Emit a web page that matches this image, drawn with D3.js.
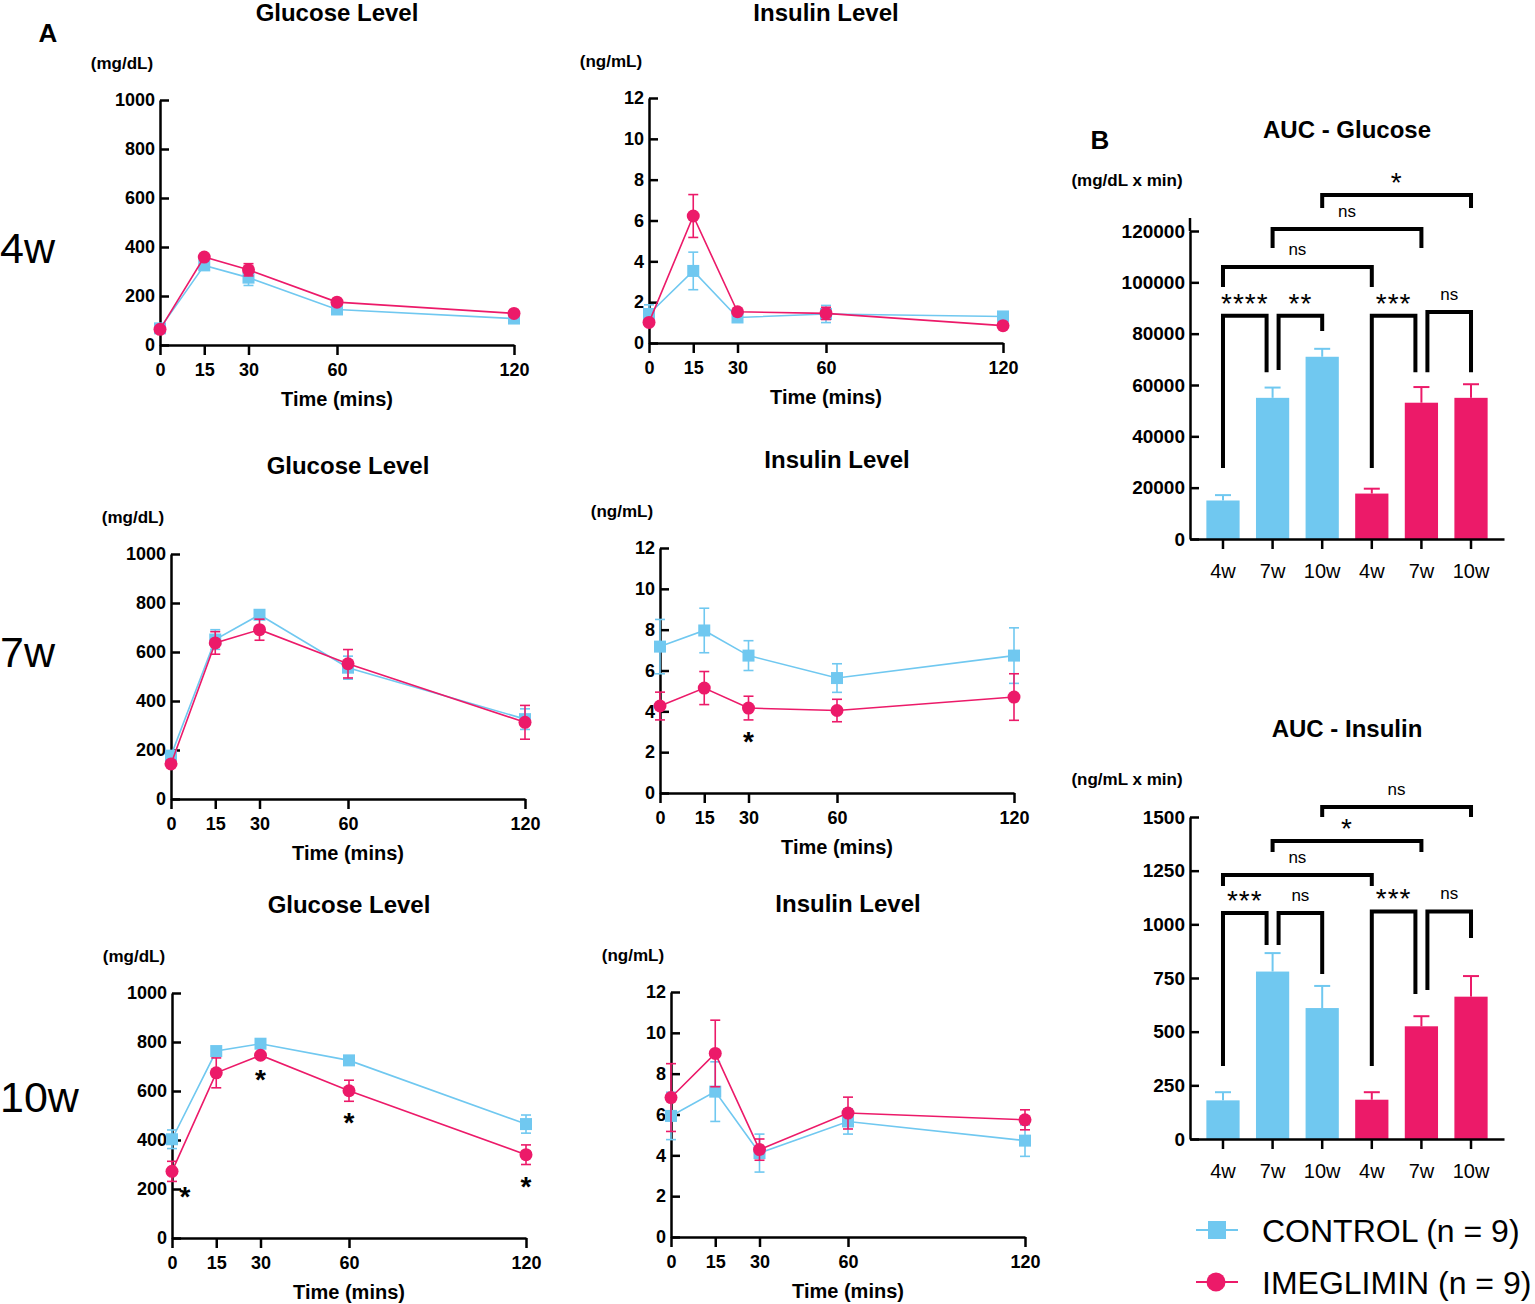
<!DOCTYPE html>
<html>
<head>
<meta charset="utf-8">
<script src="https://cdn.jsdelivr.net/npm/d3@7"></script>
<style>
  body { margin: 0; background: #fff; }
  svg text { font-family: "Liberation Sans", Arial, sans-serif; fill: #000; }
</style>
</head>
<body>
<svg id="fig" width="1535" height="1304"></svg>
<script>
// ---- data ----
const times = [0, 15, 30, 60, 120];
const glucoseTicks = [0, 200, 400, 600, 800, 1000];
const insulinTicks = [0, 2, 4, 6, 8, 10, 12];

const glucose4wCtrl = [68, 325, 275, 145, 108];
const glucose4wCtrlErr = [12, 15, 32, 10, 8];
const glucose4wIme = [64, 359, 307, 175, 129];
const glucose4wImeErr = [8, 10, 25, 8, 8];

const insulin4wCtrl = [1.42, 3.53, 1.25, 1.42, 1.30];
const insulin4wCtrlErr = [0.45, 0.92, 0.1, 0.42, 0.1];
const insulin4wIme = [1.01, 6.22, 1.53, 1.45, 0.85];
const insulin4wImeErr = [0.1, 1.05, 0.1, 0.3, 0.08];

const glucose7wCtrl = [177, 651, 752, 536, 326];
const glucose7wCtrlErr = [15, 40, 10, 47, 42];
const glucose7wIme = [143, 637, 691, 552, 313];
const glucose7wImeErr = [10, 46, 43, 58, 69];

const insulin7wCtrl = [7.17, 7.96, 6.73, 5.63, 6.73];
const insulin7wCtrlErr = [1.33, 1.09, 0.73, 0.70, 1.36];
const insulin7wIme = [4.26, 5.14, 4.16, 4.04, 4.70];
const insulin7wImeErr = [0.68, 0.81, 0.58, 0.55, 1.14];

const glucose10wCtrl = [403, 763, 793, 725, 465];
const glucose10wCtrlErr = [38, 10, 10, 12, 37];
const glucose10wIme = [272, 674, 746, 601, 340];
const glucose10wImeErr = [41, 61, 10, 43, 40];

const insulin10wCtrl = [5.93, 7.12, 4.11, 5.66, 4.72];
const insulin10wCtrlErr = [1.16, 1.46, 0.93, 0.62, 0.77];
const insulin10wIme = [6.83, 8.99, 4.28, 6.07, 5.74];
const insulin10wImeErr = [1.66, 1.63, 0.52, 0.78, 0.49];

// time points marked * (imeglimin vs control)
const glucose10wStars = [0, 30, 60, 120];
const insulin7wStars = [30];

const aucLabels = ["4w", "7w", "10w", "4w", "7w", "10w"];
const aucGroup = ["CONTROL", "CONTROL", "CONTROL", "IMEGLIMIN", "IMEGLIMIN", "IMEGLIMIN"];
const aucGlucose = [15000, 55000, 71000, 17700, 53100, 55000];
const aucGlucoseErr = [2100, 4000, 3100, 1900, 6100, 5300];
const aucGlucoseTicks = [0, 20000, 40000, 60000, 80000, 100000, 120000];
const aucInsulin = [180, 780, 610, 183, 525, 663];
const aucInsulinErr = [38, 86, 103, 35, 47, 96];
const aucInsulinTicks = [0, 250, 500, 750, 1000, 1250, 1500];

// comparisons: bars a-b, label, bracket height and leg ends (data units)
const glucoseBrackets = [
  { a: 0, b: 1, label: "****", top: 87000, endA: 27700, endB: 65000 },
  { a: 1, b: 2, label: "**", top: 87000, endA: 65800, endB: 81000 },
  { a: 3, b: 4, label: "***", top: 87000, endA: 27700, endB: 65000 },
  { a: 4, b: 5, label: "ns", top: 88400, endA: 65000, endB: 65000 },
  { a: 0, b: 3, label: "ns", top: 106000, endA: 98200, endB: 98200 },
  { a: 1, b: 4, label: "ns", top: 120800, endA: 113400, endB: 113400 },
  { a: 2, b: 5, label: "*", top: 134000, endA: 129000, endB: 129000 }
];
const insulinBrackets = [
  { a: 0, b: 1, label: "***", top: 1053, endA: 340, endB: 904 },
  { a: 1, b: 2, label: "ns", top: 1053, endA: 904, endB: 769 },
  { a: 3, b: 4, label: "***", top: 1060, endA: 340, endB: 675 },
  { a: 4, b: 5, label: "ns", top: 1060, endA: 694, endB: 936 },
  { a: 0, b: 3, label: "ns", top: 1230, endA: 1178, endB: 1178 },
  { a: 1, b: 4, label: "*", top: 1388, endA: 1337, endB: 1337 },
  { a: 2, b: 5, label: "ns", top: 1547, endA: 1500, endB: 1500 }
];

// ---- drawing ----
const blue = "#70c8f0";
const pink = "#ec1a69";
const color = d3.scaleOrdinal().domain(["CONTROL", "IMEGLIMIN"]).range([blue, pink]);
const svg = d3.select("#fig");
const W = 354, H = 245;

function styleAxis(sel, fs) {
  sel.selectAll(".domain").attr("stroke", "#000").attr("stroke-width", 2.5);
  sel.selectAll(".tick line").attr("stroke", "#000").attr("stroke-width", 2.5);
  sel.selectAll(".tick text").style("font-size", fs + "px").style("font-weight", "bold");
}

function drawSeries(g, x, y, vals, errs, col, shape) {
  g.append("path")
    .datum(vals)
    .attr("fill", "none")
    .attr("stroke", col)
    .attr("stroke-width", 1.6)
    .attr("d", d3.line().x((d, i) => x(times[i])).y(d => y(d)));

  const eb = g.append("g").attr("stroke", col).attr("stroke-width", 1.6);
  vals.forEach((v, i) => {
    const cx = x(times[i]);
    eb.append("line").attr("x1", cx).attr("x2", cx).attr("y1", y(v - errs[i])).attr("y2", y(v + errs[i]));
    [v - errs[i], v + errs[i]].forEach(e => {
      eb.append("line").attr("x1", cx - 5).attr("x2", cx + 5).attr("y1", y(e)).attr("y2", y(e));
    });
  });

  if (shape === "square") {
    g.selectAll(null).data(vals).enter().append("rect")
      .attr("x", (d, i) => x(times[i]) - 6).attr("y", d => y(d) - 6)
      .attr("width", 12).attr("height", 12).attr("fill", col);
  } else {
    g.selectAll(null).data(vals).enter().append("circle")
      .attr("cx", (d, i) => x(times[i])).attr("cy", d => y(d))
      .attr("r", 6.5).attr("fill", col);
  }
}

function lineChart(p) {
  const x = d3.scaleLinear().domain([0, 120]).range([p.left, p.left + W]);
  const y = d3.scaleLinear().domain([0, p.max]).range([p.bottom, p.bottom - H]);
  const g = svg.append("g");

  const ax = g.append("g").attr("transform", `translate(0,${p.bottom})`)
    .call(d3.axisBottom(x).tickValues(times).tickSize(10).tickSizeOuter(0).tickPadding(8));
  styleAxis(ax, 18);
  const ay = g.append("g").attr("transform", `translate(${p.left},0)`)
    .call(d3.axisLeft(y).tickValues(p.ticks).tickFormat(d3.format("d"))
      .tickSize(-9).tickSizeOuter(0).tickPadding(5));
  styleAxis(ay, 18);

  g.append("text").attr("x", p.left + W / 2).attr("y", Math.max(p.bottom - H - 80, 21))
    .attr("text-anchor", "middle").style("font-size", "24px").style("font-weight", "bold")
    .text(p.title);
  g.append("text").attr("x", p.left - 38).attr("y", p.bottom - H - 31)
    .attr("text-anchor", "middle").style("font-size", "17px").style("font-weight", "bold")
    .text(p.unit);
  g.append("text").attr("x", p.left + W / 2).attr("y", p.bottom + 61)
    .attr("text-anchor", "middle").style("font-size", "20px").style("font-weight", "bold")
    .text("Time (mins)");

  drawSeries(g, x, y, p.ctrl, p.ctrlErr, blue, "square");
  drawSeries(g, x, y, p.ime, p.imeErr, pink, "circle");

  (p.stars || []).forEach(t => {
    const i = times.indexOf(t);
    g.append("text")
      .attr("x", x(t) + (t === 0 ? 13 : 0))
      .attr("y", y(p.ime[i] - p.imeErr[i]) + (t === 0 ? 25 : 31))
      .attr("text-anchor", "middle").style("font-size", "28px").style("font-weight", "bold")
      .text("*");
  });
}

function aucChart(p) {
  const idx = d3.range(aucLabels.length);
  const x = d3.scaleBand().domain(idx).range([1190, 1504]).paddingInner(0.33).paddingOuter(0.33);
  const y = d3.scaleLinear().domain([0, p.max]).range([p.bottom, p.top]);
  const g = svg.append("g");
  const cx = i => x(i) + x.bandwidth() / 2;

  g.selectAll(null).data(p.vals).enter().append("rect")
    .attr("x", (d, i) => x(i)).attr("width", x.bandwidth())
    .attr("y", d => y(d)).attr("height", d => y(0) - y(d))
    .attr("fill", (d, i) => color(aucGroup[i]));

  p.vals.forEach((v, i) => {
    const c = color(aucGroup[i]);
    g.append("line").attr("x1", cx(i)).attr("x2", cx(i)).attr("y1", y(v)).attr("y2", y(v + p.errs[i]))
      .attr("stroke", c).attr("stroke-width", 2);
    g.append("line").attr("x1", cx(i) - 8).attr("x2", cx(i) + 8)
      .attr("y1", y(v + p.errs[i])).attr("y2", y(v + p.errs[i]))
      .attr("stroke", c).attr("stroke-width", 2);
  });

  const ax = g.append("g").attr("transform", `translate(0,${p.bottom})`)
    .call(d3.axisBottom(x).tickFormat(i => aucLabels[i]).tickSize(10).tickSizeOuter(0).tickPadding(15));
  styleAxis(ax, 20);
  ax.selectAll(".tick text").style("font-weight", "normal").style("font-size", "20px");
  const ay = g.append("g").attr("transform", "translate(1190,0)")
    .call(d3.axisLeft(y).tickValues(p.ticks).tickFormat(d3.format("d")).tickSize(-9).tickSizeOuter(0).tickPadding(5));
  styleAxis(ay, 19);
  if (p.axisExtra) {
    g.append("line").attr("x1", 1190).attr("x2", 1190)
      .attr("y1", y.range()[1]).attr("y2", y.range()[1] - p.axisExtra)
      .attr("stroke", "#000").attr("stroke-width", 2.5);
  }

  g.append("text").attr("x", 1347).attr("y", p.titleY)
    .attr("text-anchor", "middle").style("font-size", "24px").style("font-weight", "bold")
    .text(p.title);
  g.append("text").attr("x", 1127).attr("y", p.unitY)
    .attr("text-anchor", "middle").style("font-size", "17px").style("font-weight", "bold")
    .text(p.unit);

  // significance brackets
  const adjacent = p.brackets.filter(b => b.b - b.a === 1);
  p.brackets.forEach(b => {
    let sa = 0, sb = 0;
    if (b.b - b.a === 1) {
      if (adjacent.some(o => o !== b && o.b === b.a)) sa = 6;
      if (adjacent.some(o => o !== b && o.a === b.b)) sb = -6;
    }
    const xa = cx(b.a) + sa, xb = cx(b.b) + sb;
    g.append("path")
      .attr("d", `M${xa},${y(b.endA)}V${y(b.top)}H${xb}V${y(b.endB)}`)
      .attr("fill", "none").attr("stroke", "#000").attr("stroke-width", 4)
      .attr("stroke-linejoin", "miter");
    const isStar = b.label.indexOf("*") >= 0;
    g.append("text")
      .attr("x", (xa + xb) / 2)
      .attr("y", y(b.top) - (isStar ? 3 : 12))
      .attr("text-anchor", "middle")
      .style("font-size", isStar ? "28px" : "17px")
      .style("letter-spacing", isStar ? "1px" : "0px")
      .text(b.label);
  });
}

// rows of the time-course panels
lineChart({ left: 160, bottom: 345, max: 1000, ticks: glucoseTicks, title: "Glucose Level", unit: "(mg/dL)",
  ctrl: glucose4wCtrl, ctrlErr: glucose4wCtrlErr, ime: glucose4wIme, imeErr: glucose4wImeErr });
lineChart({ left: 649, bottom: 343, max: 12, ticks: insulinTicks, title: "Insulin Level", unit: "(ng/mL)",
  ctrl: insulin4wCtrl, ctrlErr: insulin4wCtrlErr, ime: insulin4wIme, imeErr: insulin4wImeErr });
lineChart({ left: 171, bottom: 799, max: 1000, ticks: glucoseTicks, title: "Glucose Level", unit: "(mg/dL)",
  ctrl: glucose7wCtrl, ctrlErr: glucose7wCtrlErr, ime: glucose7wIme, imeErr: glucose7wImeErr });
lineChart({ left: 660, bottom: 793, max: 12, ticks: insulinTicks, title: "Insulin Level", unit: "(ng/mL)",
  ctrl: insulin7wCtrl, ctrlErr: insulin7wCtrlErr, ime: insulin7wIme, imeErr: insulin7wImeErr, stars: insulin7wStars });
lineChart({ left: 172, bottom: 1238, max: 1000, ticks: glucoseTicks, title: "Glucose Level", unit: "(mg/dL)",
  ctrl: glucose10wCtrl, ctrlErr: glucose10wCtrlErr, ime: glucose10wIme, imeErr: glucose10wImeErr, stars: glucose10wStars });
lineChart({ left: 671, bottom: 1237, max: 12, ticks: insulinTicks, title: "Insulin Level", unit: "(ng/mL)",
  ctrl: insulin10wCtrl, ctrlErr: insulin10wCtrlErr, ime: insulin10wIme, imeErr: insulin10wImeErr });

aucChart({ bottom: 539, top: 231, max: 120000, ticks: aucGlucoseTicks, vals: aucGlucose, errs: aucGlucoseErr,
  brackets: glucoseBrackets, title: "AUC - Glucose", titleY: 138, unit: "(mg/dL x min)", unitY: 186, axisExtra: 13 });
aucChart({ bottom: 1139, top: 817, max: 1500, ticks: aucInsulinTicks, vals: aucInsulin, errs: aucInsulinErr,
  brackets: insulinBrackets, title: "AUC - Insulin", titleY: 737, unit: "(ng/mL x min)", unitY: 785 });

// row labels and panel letters
[["4w", 263], ["7w", 667], ["10w", 1112]].forEach(([t, yy]) => {
  svg.append("text").attr("x", 0).attr("y", yy).style("font-size", "43px").text(t);
});
svg.append("text").attr("x", 48).attr("y", 42).attr("text-anchor", "middle")
  .style("font-size", "26px").style("font-weight", "bold").text("A");
svg.append("text").attr("x", 1100).attr("y", 149).attr("text-anchor", "middle")
  .style("font-size", "26px").style("font-weight", "bold").text("B");

// legend
const legend = svg.append("g");
[["CONTROL", "CONTROL (n = 9)", 1230], ["IMEGLIMIN", "IMEGLIMIN (n = 9)", 1282]].forEach(([grp, label, ly]) => {
  const c = color(grp);
  legend.append("line").attr("x1", 1196).attr("x2", 1238).attr("y1", ly).attr("y2", ly)
    .attr("stroke", c).attr("stroke-width", 2);
  if (grp === "CONTROL") {
    legend.append("rect").attr("x", 1208).attr("y", ly - 9).attr("width", 18).attr("height", 18).attr("fill", c);
  } else {
    legend.append("circle").attr("cx", 1216).attr("cy", ly).attr("r", 9.5).attr("fill", c);
  }
  legend.append("text").attr("x", 1262).attr("y", ly + 11.5).style("font-size", "32px").text(label);
});
</script>
</body>
</html>
